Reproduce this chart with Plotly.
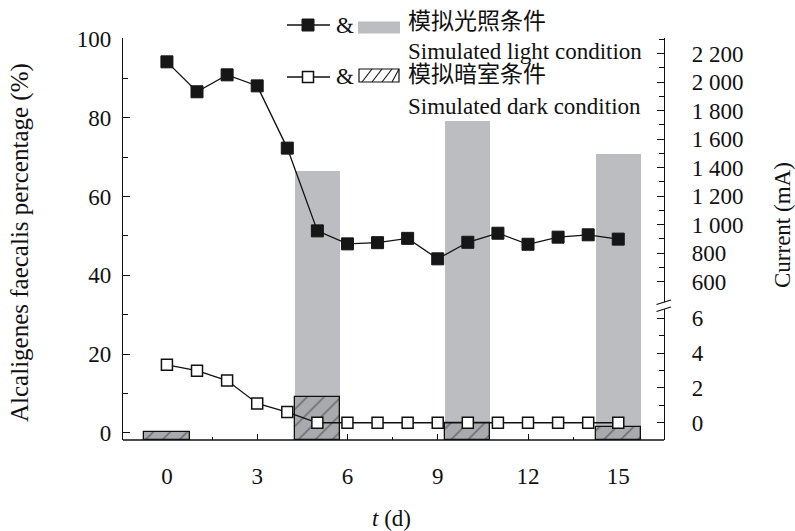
import plotly.graph_objects as go

# ---------------- data ----------------
days = list(range(16))
light_pct = [94.2, 86.6, 90.9, 88.1, 72.3, 51.3, 48.0, 48.3, 49.4, 44.2,
             48.4, 50.7, 47.9, 49.7, 50.3, 49.2]
dark_pct = [17.3, 15.8, 13.3, 7.5, 5.3, 2.6, 2.6, 2.6, 2.6, 2.6,
            2.6, 2.6, 2.6, 2.6, 2.6, 2.6]

light_bar_days = [5, 10, 15]
light_current = [1374, 1725, 1493]          # mA (upper scale)
dark_bar_days = [0, 5, 10, 15]
dark_current = [-0.55, 1.5, 0.0, -0.26]      # mA (lower scale)

x_ticks = [0, 3, 6, 9, 12, 15]
left_ticks = [0, 20, 40, 60, 80, 100]
right_upper_ticks = [600, 800, 1000, 1200, 1400, 1600, 1800, 2000, 2200]
right_upper_text = ["600", "800", "1 000", "1 200", "1 400", "1 600", "1 800", "2 000", "2 200"]
right_lower_ticks = [0, 2, 4, 6]
right_lower_text = ["0", "2", "4", "6"]

# ---------------- broken right axis mapping (mA -> left-axis units) ----------------
Y_MIN, Y_MAX = -1.78, 100.25


def cur_to_v(c, upper):
    if upper:
        return 38.4 + (c - 600) * 0.03617
    return 2.61 + 4.416 * c


FONT = "Liberation Serif, Times New Roman, Noto Sans CJK SC, serif"
FS = 23
INK = "#111"

fig = go.Figure()

# gray bars (light condition current) - on y (drawn below)
fig.add_trace(go.Bar(
    x=light_bar_days,
    y=[cur_to_v(c, True) - Y_MIN for c in light_current],
    base=Y_MIN, width=1.5,
    marker=dict(color="#bcbdc1", line=dict(width=0)),
    yaxis="y", showlegend=False))

# hatched bars (dark condition current)
fig.add_trace(go.Bar(
    x=dark_bar_days,
    y=[cur_to_v(c, False) - Y_MIN for c in dark_current],
    base=Y_MIN, width=1.5,
    marker=dict(color="#a9aaae", line=dict(color=INK, width=1.3),
                pattern=dict(shape="/", fgcolor="#222", bgcolor="#a9aaae",
                             size=12, solidity=0.12)),
    yaxis="y", showlegend=False))

# lines (on overlaying axis so they sit above the bars)
fig.add_trace(go.Scatter(
    x=days, y=dark_pct, mode="lines+markers",
    line=dict(color=INK, width=1.3),
    marker=dict(symbol="square", size=11, color="white",
                line=dict(color=INK, width=1.5)),
    yaxis="y2", showlegend=False))
fig.add_trace(go.Scatter(
    x=days, y=light_pct, mode="lines+markers",
    line=dict(color=INK, width=1.3),
    marker=dict(symbol="square", size=12, color="#161616",
                line=dict(color="#161616", width=1)),
    yaxis="y2", showlegend=False))

# ---------------- pixel helpers (screen coordinates) ----------------
W, H = 795, 531
PL, PR, PT, PB = 123, 664, 38, 440


def px(x):
    return (x - PL) / (PR - PL)


def py(y):
    return (PB - y) / (PB - PT)


shapes = []
annotations = []


def label(text, x, y, xanchor="center", angle=0, size=FS):
    annotations.append(dict(text=text, x=px(x), y=py(y), xref="paper", yref="paper",
                            xanchor=xanchor, yanchor="middle", textangle=angle,
                            showarrow=False,
                            font=dict(family=FONT, size=size, color=INK)))


# bottom axis line on top of bars
shapes.append(dict(type="line", xref="paper", yref="paper", x0=0, x1=1, y0=0, y1=0,
                   line=dict(color=INK, width=1.3), layer="above"))

# axis break marks on right axis
path = "M {},{} L {},{} L {},{} L {},{} Z".format(
    px(656.5), py(304.5), px(671), py(300), px(671), py(307), px(656.5), py(311.5))
shapes.append(dict(type="path", xref="paper", yref="paper", path=path,
                   fillcolor="white", line=dict(width=0), layer="above"))
for (x0, y0, x1, y1) in [(656.5, 304.5, 671, 300), (656.5, 311.5, 671, 307)]:
    shapes.append(dict(type="line", xref="paper", yref="paper",
                       x0=px(x0), y0=py(y0), x1=px(x1), y1=py(y1),
                       line=dict(color=INK, width=1.3), layer="above"))

# ---------------- manual legend ----------------
# row 1: filled squares & gray bars
shapes.append(dict(type="line", xref="paper", yref="paper", x0=px(287), x1=px(330),
                   y0=py(25), y1=py(25), line=dict(color=INK, width=1.3)))
shapes.append(dict(type="rect", xref="paper", yref="paper", x0=px(302), x1=px(314),
                   y0=py(19), y1=py(31), fillcolor="#161616",
                   line=dict(color="#161616", width=1)))
label("&amp;", 345, 25)
shapes.append(dict(type="rect", xref="paper", yref="paper", x0=px(358), x1=px(400),
                   y0=py(21.5), y1=py(33.5), fillcolor="#bcbdc1", line=dict(width=0)))
label("模拟光照条件", 406, 22, xanchor="left")
label("Simulated light condition", 406, 52, xanchor="left")
# row 2: open squares & hatched bars
shapes.append(dict(type="line", xref="paper", yref="paper", x0=px(287), x1=px(330),
                   y0=py(77), y1=py(77), line=dict(color=INK, width=1.3)))
shapes.append(dict(type="rect", xref="paper", yref="paper", x0=px(302.5), x1=px(313.5),
                   y0=py(71.5), y1=py(82.5), fillcolor="white",
                   line=dict(color=INK, width=1.5)))
label("&amp;", 345, 76)
shapes.append(dict(type="rect", xref="paper", yref="paper", x0=px(359), x1=px(399),
                   y0=py(69), y1=py(82), fillcolor="white", line=dict(color=INK, width=1.2)))
for k in range(4):
    xa = 359 + 3 + k * 10
    shapes.append(dict(type="line", xref="paper", yref="paper",
                       x0=px(xa), y0=py(82), x1=px(min(xa + 10, 399)), y1=py(69),
                       line=dict(color=INK, width=1.1)))
label("模拟暗室条件", 406, 75, xanchor="left")
label("Simulated dark condition", 406, 106, xanchor="left")

# axis titles
label("Alcaligenes faecalis percentage (%)", 20, 243, angle=-90, size=25)
label("Current (mA)", 782, 225, angle=-90)
label("<i>t</i> (d)", 391, 518)

r_tickvals = [cur_to_v(c, True) for c in right_upper_ticks] + \
             [cur_to_v(c, False) for c in right_lower_ticks]
r_ticktext = right_upper_text + right_lower_text
r_minor = [cur_to_v(c, True) for c in range(700, 2400, 200)] + \
          [cur_to_v(c, False) for c in (1, 3, 5)]

fig.update_layout(
    width=W, height=H, autosize=False,
    margin=dict(l=PL, r=W - PR, t=PT, b=H - PB, pad=0),
    paper_bgcolor="white", plot_bgcolor="white",
    barmode="overlay", bargap=0,
    showlegend=False,
    font=dict(family=FONT, size=FS, color=INK),
    shapes=shapes, annotations=annotations,
    xaxis=dict(range=[-1.46, 16.52], tickvals=x_ticks, ticks="inside", ticklen=6,
               tickwidth=1.2, tickcolor=INK,
               minor=dict(tickvals=[1.5, 4.5, 7.5, 10.5, 13.5], ticks="inside",
                          ticklen=3, tickcolor=INK, tickwidth=1.2),
               showline=False, showgrid=False, zeroline=False,
               ticklabelstandoff=20, layer="below traces",
               tickfont=dict(family=FONT, size=FS, color=INK)),
    yaxis=dict(range=[Y_MIN, Y_MAX], tickvals=left_ticks, ticks="inside", ticklen=7,
               tickwidth=1.2, tickcolor=INK,
               minor=dict(tickvals=[10, 30, 50, 70, 90], ticks="inside", ticklen=5,
                          tickcolor=INK, tickwidth=1.2),
               showline=True, linecolor=INK, linewidth=1.3,
               showgrid=False, zeroline=False, ticklabelstandoff=6,
               tickfont=dict(family=FONT, size=FS, color=INK)),
    yaxis2=dict(range=[Y_MIN, Y_MAX], overlaying="y", side="right",
                tickvals=r_tickvals, ticktext=r_ticktext,
                ticks="inside", ticklen=7, tickwidth=1.2, tickcolor=INK,
                minor=dict(tickvals=r_minor, ticks="inside", ticklen=5,
                           tickcolor=INK, tickwidth=1.2),
                showline=True, linecolor=INK, linewidth=1.3,
                showgrid=False, zeroline=False, ticklabelstandoff=22,
                tickfont=dict(family=FONT, size=FS, color=INK)),
)

fig.write_html(
    "out.html",
    config={"displayModeBar": False},
    post_script="document.body.style.margin='0';document.body.style.overflow='hidden';",
)
